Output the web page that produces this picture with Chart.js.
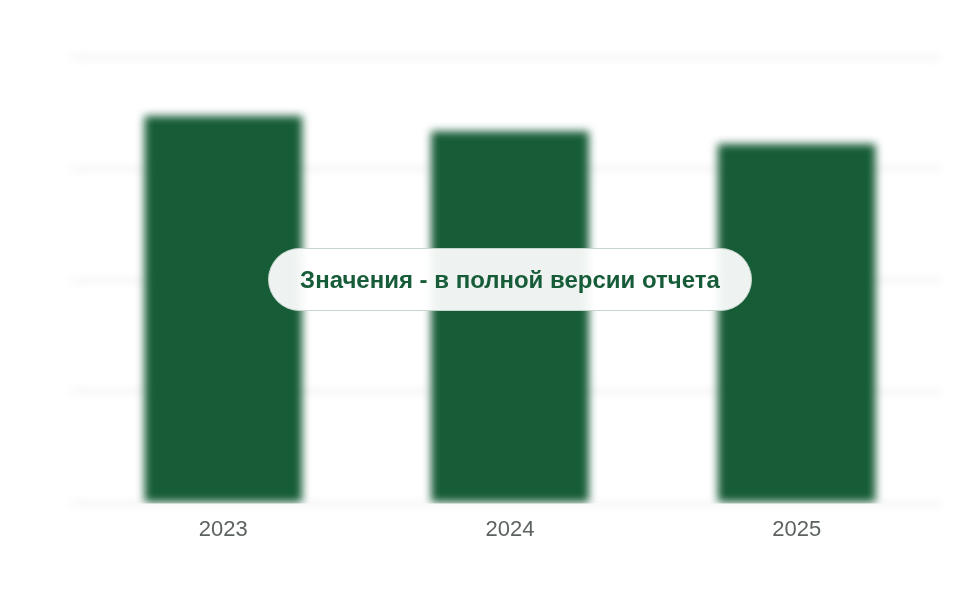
<!DOCTYPE html>
<html>
<head>
<meta charset="utf-8">
<script src="https://cdn.jsdelivr.net/npm/chart.js@4"></script>
<style>
    html, body { margin: 0; padding: 0; background: #fff; }
    .wrap { position: relative; width: 960px; height: 600px; }
    .note {
        position: absolute;
        left: 268px; top: 248px;
        width: 484px; height: 63px;
        box-sizing: border-box;
        border: 1.5px solid #c6d6cc;
        border-radius: 32px;
        background: rgba(255, 255, 255, 0.93);
        display: flex; align-items: center; justify-content: center;
        font-family: "Liberation Sans", Arial, sans-serif;
        font-weight: bold; font-size: 24px;
        color: #175c38;
    }
</style>
</head>
<body>
<div class="wrap">
    <canvas id="myChart" width="960" height="600"></canvas>
    <div class="note">Значения - в полной версии отчета</div>
</div>
<script>
const ctx = document.getElementById('myChart');

const years = ['2023', '2024', '2025'];
const values = [86.8, 83.4, 80.5];
const yTicks = [0, 25, 50, 75, 100];

// blur grid + bars, keep tick labels sharp (they are drawn after datasets, z: 1)
const blurPlugin = {
    id: 'blurMarks',
    beforeDraw(chart) {
        chart.ctx.save();
        chart.ctx.filter = 'blur(4px)';
    },
    afterDatasetsDraw(chart) {
        chart.ctx.restore();
    }
};

new Chart(ctx, {
    type: 'bar',
    data: {
        labels: years,
        datasets: [{
            data: values,
            backgroundColor: '#165c37',
            barPercentage: 0.55,
            categoryPercentage: 1
        }]
    },
    options: {
        responsive: false,
        animation: false,
        layout: { padding: { left: 72, right: 20, top: 57, bottom: 52 } },
        plugins: {
            legend: { display: false },
            tooltip: { enabled: false }
        },
        scales: {
            x: {
                grid: { display: false },
                border: { display: false },
                ticks: {
                    z: 1,
                    color: '#5c6262',
                    padding: 5,
                    font: { family: 'Liberation Sans, Arial, sans-serif', size: 22 }
                }
            },
            y: {
                min: yTicks[0],
                max: yTicks[yTicks.length - 1],
                afterBuildTicks: axis => { axis.ticks = yTicks.map(v => ({ value: v })); },
                grid: { color: '#ececec', lineWidth: 3 },
                border: { display: false },
                ticks: { display: false }
            }
        }
    },
    plugins: [blurPlugin]
});
</script>
</body>
</html>
